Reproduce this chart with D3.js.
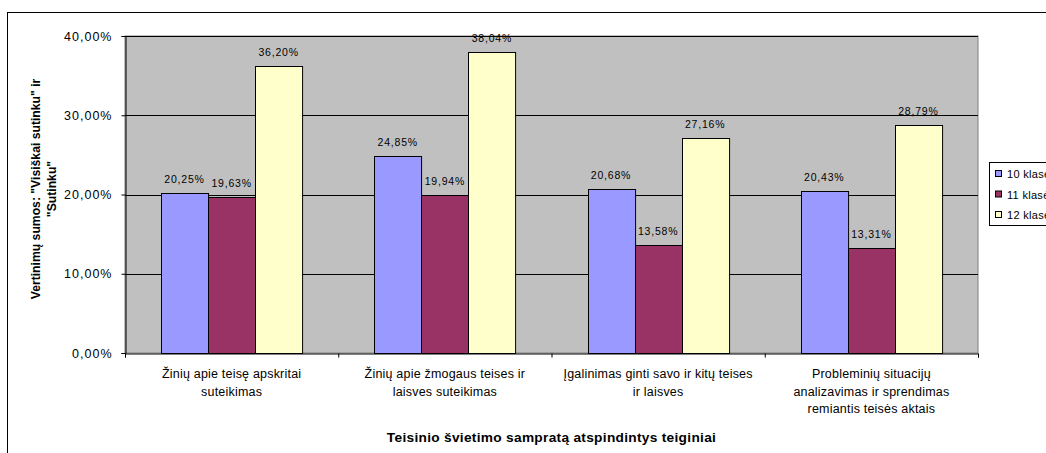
<!DOCTYPE html>
<html><head><meta charset="utf-8">
<script src="https://cdn.jsdelivr.net/npm/d3@7"></script>
<style>body{margin:0;background:#fff;}svg{display:block;font-family:"Liberation Sans",Arial,sans-serif;}</style>
</head><body>
<svg id="c" width="1046" height="453"></svg>
<script>
const categories = [
  ["Žinių  apie teisę apskritai", "suteikimas"],
  ["Žinių  apie žmogaus teises ir", "laisves suteikimas"],
  ["Įgalinimas ginti savo ir kitų teises", "ir laisves"],
  ["Probleminių situacijų", "analizavimas ir sprendimas", "remiantis teisės aktais"]
];
const seriesNames = ["10 klasė", "11 klasė", "12 klasė"];
const values10 = [20.25, 24.85, 20.68, 20.43];
const values11 = [19.63, 19.94, 13.58, 13.31];
const values12 = [36.20, 38.04, 27.16, 28.79];
const yTicks = [0, 10, 20, 30, 40];
const colors = ["#9999FF", "#993366", "#FFFFCC"];

const series = [values10, values11, values12];
const svg = d3.select("#c");
const L = 125, R = 978, T = 36, B = 353;
const fmt = v => v.toFixed(2).replace(".", ",") + "%";

// outer border
svg.append("rect").attr("x", 7.5).attr("y", 12.5).attr("width", 1100).attr("height", 1000)
  .attr("fill", "none").attr("stroke", "#000").attr("stroke-width", 1);

const x0 = d3.scaleBand().domain(d3.range(categories.length)).range([L, R]).padding(0);
const x1 = d3.scaleBand().domain(d3.range(3)).range([36, x0.bandwidth() - 36]).padding(0);
const y = d3.scaleLinear().domain([0, 40]).range([B, T]);

// plot area
svg.append("rect").attr("x", L).attr("y", T).attr("width", R - L).attr("height", B - T)
  .attr("fill", "#C0C0C0").attr("stroke", "#808080").attr("stroke-width", 1);

// gridlines
svg.append("g").selectAll("line").data(yTicks.filter(d => d > 0)).join("line")
  .attr("x1", L).attr("x2", R).attr("y1", d => Math.round(y(d)) + 0.5).attr("y2", d => Math.round(y(d)) + 0.5)
  .attr("stroke", "#000").attr("stroke-width", 1);

// bars
const g = svg.append("g");
series.forEach((vals, si) => {
  g.selectAll(".b" + si).data(vals).join("rect")
    .attr("x", (d, i) => Math.round(x0(i) + x1(si)) + 0.5)
    .attr("y", d => Math.round(y(d)) + 0.5)
    .attr("width", x1.bandwidth())
    .attr("height", d => B - Math.round(y(d)))
    .attr("fill", colors[si]).attr("stroke", "#000").attr("stroke-width", 1);
  g.selectAll(".l" + si).data(vals).join("text")
    .attr("x", (d, i) => x0(i) + x1(si) + x1.bandwidth() / 2)
    .attr("y", d => y(d) - 10)
    .attr("text-anchor", "middle").attr("font-size", 10.5).attr("letter-spacing", 0.8).attr("fill", "#000")
    .text(d => fmt(d));
});

// y axis
const yAxis = d3.axisLeft(y).tickValues(yTicks).tickSize(4).tickFormat(d => d.toFixed(2).replace(".", ",") + "%");
const ya = svg.append("g").attr("transform", `translate(${L + 0.5},0)`).call(yAxis);
ya.select(".domain").attr("stroke", "#000");
ya.selectAll(".tick line").attr("stroke", "#000");
ya.selectAll(".tick text").attr("font-size", 12.5).attr("letter-spacing", 1).attr("font-family", "Liberation Sans, Arial, sans-serif").attr("fill", "#000").attr("x", -13);

// x axis
const xs = d3.scaleLinear().domain([0, 4]).range([L, R]);
const xa = svg.append("g").attr("transform", `translate(0,${B + 0.5})`)
  .call(d3.axisBottom(xs).tickValues([0,1,2,3,4]).tickSize(4).tickFormat(""));
xa.select(".domain").attr("stroke", "#000");
xa.selectAll(".tick line").attr("stroke", "#000");

// category labels
categories.forEach((lines, i) => {
  const t = svg.append("text").attr("text-anchor", "middle").attr("font-size", 12.5).attr("letter-spacing", 0.2).attr("fill", "#000");
  lines.forEach((ln, j) => {
    t.append("tspan").attr("x", x0(i) + x0.bandwidth() / 2).attr("y", 378 + j * 17.5).text(ln);
  });
});

// x title
svg.append("text").attr("x", (L + R) / 2).attr("y", 442).attr("text-anchor", "middle")
  .attr("font-size", 13.7).attr("letter-spacing", 0.3).attr("font-weight", "bold").text("Teisinio švietimo sampratą atspindintys teiginiai");

// y title
const yt = svg.append("text").attr("transform", "translate(0,189) rotate(-90)")
  .attr("text-anchor", "middle").attr("font-size", 12.2).attr("font-weight", "bold");
yt.append("tspan").attr("x", 0).attr("y", 40).text('Vertinimų sumos: "Visiškai sutinku" ir');
yt.append("tspan").attr("x", 0).attr("y", 56).text('"Sutinku"');

// legend
const lg = svg.append("g");
lg.append("rect").attr("x", 989.5).attr("y", 162.5).attr("width", 100).attr("height", 63)
  .attr("fill", "#fff").attr("stroke", "#000");
seriesNames.forEach((n, i) => {
  const yy = 174 + i * 20.5;
  lg.append("rect").attr("x", 995.5).attr("y", yy - 3.5).attr("width", 6).attr("height", 6)
    .attr("fill", colors[i]).attr("stroke", "#000");
  lg.append("text").attr("x", 1007).attr("y", yy + 4).attr("font-size", 11).attr("letter-spacing", 0.3).text(n);
});
</script>
</body></html>
